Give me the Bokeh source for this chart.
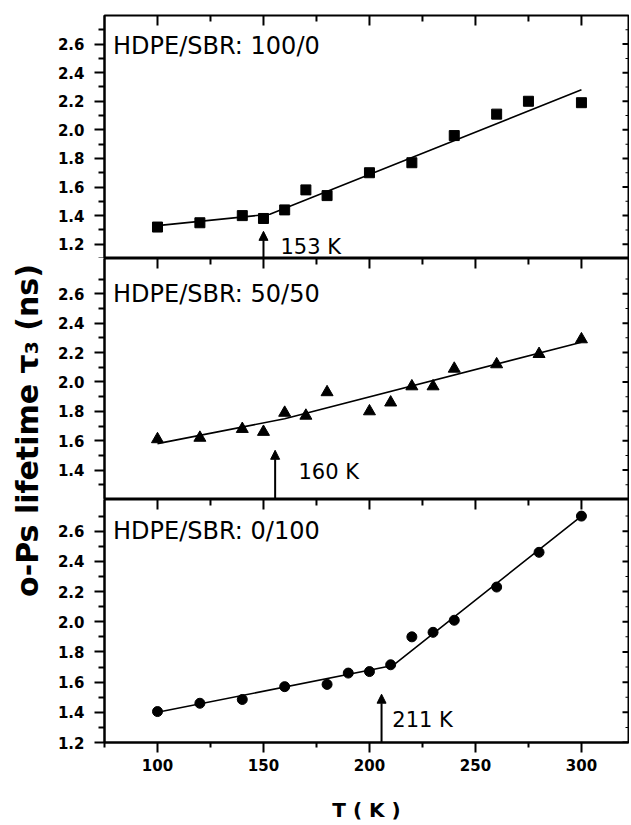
from bokeh.plotting import figure
from bokeh.layouts import column, row
from bokeh.models import (Range1d, FixedTicker, Label, Arrow, NormalHead,
                          PrintfTickFormatter, BoxAnnotation)
from bokeh.embed import file_html
from bokeh.resources import INLINE

# ---------------- data ----------------
T_100_0 = [100, 120, 140, 150, 160, 170, 180, 200, 220, 240, 260, 275, 300]
tau_100_0 = [1.32, 1.35, 1.40, 1.38, 1.44, 1.58, 1.54, 1.70, 1.77, 1.96, 2.11, 2.20, 2.19]
fit_T_100_0 = [100, 153, 300]
fit_tau_100_0 = [1.33, 1.41, 2.28]

T_50_50 = [100, 120, 140, 150, 160, 170, 180, 200, 210, 220, 230, 240, 260, 280, 300]
tau_50_50 = [1.61, 1.62, 1.68, 1.66, 1.79, 1.77, 1.93, 1.80, 1.86, 1.97, 1.97, 2.09, 2.12, 2.19, 2.29]
fit_T_50_50 = [100, 160, 300]
fit_tau_50_50 = [1.58, 1.75, 2.27]

T_0_100 = [100, 120, 140, 160, 180, 190, 200, 210, 220, 230, 240, 260, 280, 300]
tau_0_100 = [1.405, 1.46, 1.485, 1.57, 1.585, 1.66, 1.67, 1.715, 1.90, 1.93, 2.01, 2.23, 2.46, 2.70]
fit_T_0_100 = [100, 211, 300]
fit_tau_0_100 = [1.40, 1.71, 2.70]

panel_titles = ["HDPE/SBR: 100/0", "HDPE/SBR: 50/50", "HDPE/SBR: 0/100"]
tg_labels = ["153 K", "160 K", "211 K"]
tg_arrow_T = [150, 155.5, 205.7]

x_major_ticks = [100, 150, 200, 250, 300]
x_minor_ticks = [75, 125, 175, 225, 275]
y_major_ticks = [
    [1.2, 1.4, 1.6, 1.8, 2.0, 2.2, 2.4, 2.6],
    [1.4, 1.6, 1.8, 2.0, 2.2, 2.4, 2.6],
    [1.2, 1.4, 1.6, 1.8, 2.0, 2.2, 2.4, 2.6],
]
y_minor_ticks = [1.1, 1.3, 1.5, 1.7, 1.9, 2.1, 2.3, 2.5, 2.7]
x_label = "T ( K )"
y_label = "o-Ps lifetime τ₃ (ns)"

# ---------------- layout constants ----------------
X_RANGE = (75, 322.2)
Y_RANGES = [(1.1, 2.8), (1.2, 2.84), (1.2, 2.81)]
FRAME_H = [243, 241, 243]
FRAME_W = 524
TOP_B = 15
BOT_B = 82
FONT = "DejaVu Sans"
TOP_MAJOR_PX, TOP_MINOR_PX, RIGHT_MAJOR_PX, RIGHT_MINOR_PX = 10, 6, 6, 3


def make_panel(i, T, tau, fT, ftau, marker, msize, bottom_axis):
    p = figure(frame_width=FRAME_W, frame_height=FRAME_H[i],
               x_range=Range1d(*X_RANGE), y_range=Range1d(*Y_RANGES[i]),
               x_axis_location="below" if bottom_axis else None,
               y_axis_location="left",
               toolbar_location=None, output_backend="svg",
               min_border_left=56, min_border_right=1,
               min_border_top=TOP_B if i == 0 else 0,
               min_border_bottom=BOT_B if bottom_axis else 0)
    p.xgrid.visible = False
    p.ygrid.visible = False
    p.outline_line_color = "black"
    p.outline_line_width = 2
    p.outline_line_alpha = 1.0
    p.background_fill_color = "white"
    p.border_fill_color = "white"

    # left axis
    ya = p.left[0]
    ya.ticker = FixedTicker(ticks=y_major_ticks[i], minor_ticks=y_minor_ticks)
    ya.formatter = PrintfTickFormatter(format="%.1f")
    ya.axis_line_width = 2
    ya.major_tick_line_width = 2
    ya.minor_tick_line_width = 2
    ya.major_tick_out = 10
    ya.major_tick_in = 0
    ya.minor_tick_out = 6
    ya.minor_tick_in = 0
    ya.major_label_standoff = 10
    ya.major_label_text_font = FONT
    ya.major_label_text_font_style = "bold"
    ya.major_label_text_font_size = "15px"
    ya.major_label_text_color = "black"

    if bottom_axis:
        xa = p.below[0]
        xa.ticker = FixedTicker(ticks=x_major_ticks, minor_ticks=x_minor_ticks)
        xa.axis_line_width = 2
        xa.major_tick_line_width = 2
        xa.minor_tick_line_width = 2
        xa.major_tick_out = 10
        xa.major_tick_in = 0
        xa.minor_tick_out = 5
        xa.minor_tick_in = 0
        xa.major_label_standoff = 6
        xa.major_label_text_font = FONT
        xa.major_label_text_font_style = "bold"
        xa.major_label_text_font_size = "15px"
        xa.major_label_text_color = "black"
        xa.axis_label = x_label
        xa.axis_label_text_font = FONT
        xa.axis_label_text_font_style = "bold"
        xa.axis_label_text_font_size = "20px"
        xa.axis_label_text_color = "black"
        xa.axis_label_standoff = 24

    # inward ticks on the top and right frame edges as small filled boxes
    y_lo, y_hi = Y_RANGES[i]
    x_lo, x_hi = X_RANGE
    dy = (y_hi - y_lo) / FRAME_H[i]
    dx = (x_hi - x_lo) / FRAME_W
    for t in x_major_ticks:
        p.add_layout(BoxAnnotation(left=t - dx, right=t + dx, top=y_hi,
                                   bottom=y_hi - TOP_MAJOR_PX * dy,
                                   fill_color="black", fill_alpha=1.0, line_color=None))
    for t in x_minor_ticks[1:]:
        p.add_layout(BoxAnnotation(left=t - dx, right=t + dx, top=y_hi,
                                   bottom=y_hi - TOP_MINOR_PX * dy,
                                   fill_color="black", fill_alpha=1.0, line_color=None))
    for t in y_major_ticks[i]:
        p.add_layout(BoxAnnotation(left=x_hi - RIGHT_MAJOR_PX * dx, right=x_hi,
                                   top=t + dy, bottom=t - dy,
                                   fill_color="black", fill_alpha=1.0, line_color=None))
    for t in y_minor_ticks:
        if y_lo < t < y_hi:
            p.add_layout(BoxAnnotation(left=x_hi - RIGHT_MINOR_PX * dx, right=x_hi,
                                       top=t + 0.5 * dy, bottom=t - 0.5 * dy,
                                       fill_color="black", fill_alpha=1.0, line_color=None))

    p.line(fT, ftau, line_color="black", line_width=1.6)
    p.scatter(T, tau, marker=marker, size=msize, fill_color="black", line_color="black")

    p.add_layout(Label(x=79, y=[2.59, 2.6, 2.6][i], text=panel_titles[i],
                       text_baseline="middle", text_font=FONT,
                       text_font_size="24px", text_color="black"))
    arrow_top = [1.29, 1.535, 1.52][i]
    p.add_layout(Arrow(end=NormalHead(size=9, fill_color="black", line_color="black"),
                       x_start=tg_arrow_T[i], y_start=y_lo, x_end=tg_arrow_T[i], y_end=arrow_top,
                       line_width=2, line_color="black"))
    lab_x = [158, 166.5, 210.8][i]
    lab_y = [1.18, 1.39, 1.35][i]
    p.add_layout(Label(x=lab_x, y=lab_y, text=tg_labels[i], text_baseline="middle",
                       text_font=FONT, text_font_size="21px", text_color="black"))
    return p


p1 = make_panel(0, T_100_0, tau_100_0, fit_T_100_0, fit_tau_100_0, "square", 10, False)
p2 = make_panel(1, T_50_50, tau_50_50, fit_T_50_50, fit_tau_50_50, "triangle", 12, False)
p3 = make_panel(2, T_0_100, tau_0_100, fit_T_0_100, fit_tau_0_100, "circle", 10, True)

TOTAL_H = TOP_B + sum(FRAME_H) + BOT_B
LAB_W = 48
lab = figure(width=LAB_W, height=TOTAL_H, x_range=Range1d(0, LAB_W), y_range=Range1d(0, TOTAL_H),
             toolbar_location=None, output_backend="svg", min_border=0,
             x_axis_location=None, y_axis_location=None)
lab.xgrid.visible = False
lab.ygrid.visible = False
lab.outline_line_color = None
lab.add_layout(Label(x=27, y=TOTAL_H - 430, text=y_label, angle=1.5707963,
                     text_align="center", text_baseline="middle", text_font=FONT,
                     text_font_style="bold", text_font_size="30px", text_color="black"))

layout = row(lab, column(p1, p2, p3))
open("out.html", "w").write(file_html(layout, INLINE))
